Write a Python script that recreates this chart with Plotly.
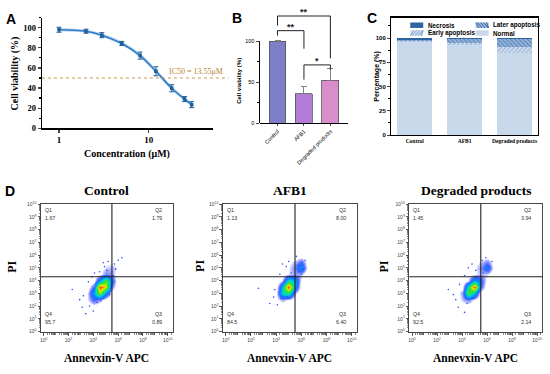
import math
import plotly.graph_objects as go

W, H = 550, 374
def fx(p): return p / W
def fy(p): return 1 - p / H

SERIF = "Liberation Serif, Times New Roman, serif"
SANS = "Liberation Sans, Arial, sans-serif"

# ---------------- Panel A data ----------------
conc = [1, 2, 3, 5, 8, 12, 18, 25, 30]
viab = [98.0, 96.5, 92.6, 84.4, 72.3, 56.7, 39.8, 29.0, 23.5]
viab_err = [2.5, 2.0, 2.5, 2.0, 3.5, 4.5, 3.5, 2.5, 3.0]
band_hi = [99.8, 98.1, 94.4, 86.2, 74.5, 59.0, 42.0, 31.0, 25.7]
band_lo = [96.2, 94.9, 90.8, 82.6, 70.1, 54.4, 37.6, 27.0, 21.3]
ic50_level = 50
ic50_label = "IC50 = 13.55μM"

# ---------------- Panel B data ----------------
groups_B = ["Control", "AFB1", "Degraded products"]
viab_B = [100, 36, 52]
err_B = [0.5, 8.5, 15.0]
colors_B = ["#7d80c6", "#b17bd8", "#da8dcb"]

# ---------------- Panel C data ----------------
groups_C = ["Control", "AFB1", "Degraded products"]
normal_C = [95.7, 92.5, 84.5]
early_C = [0.89, 2.14, 6.40]
later_C = [1.79, 3.94, 8.00]
necrosis_C = [1.67, 1.45, 1.13]

# ---------------- Panel D data ----------------
d_titles = ["Control", "AFB1", "Degraded products"]
q1_vals = ["1.67", "1.13", "1.45"]
q2_vals = ["1.79", "8.00", "3.94"]
q3_vals = ["0.89", "6.40", "2.14"]
q4_vals = ["95.7", "84.5", "92.5"]
quad_x = 5.5   # log10 gate on Annexin-V
quad_y = 4.3   # log10 gate on PI

grid_x = [3.0, 3.5, 4.0, 4.5, 5.0, 5.5, 6.0, 6.5]
grid_y = [1.5, 2.0, 2.5, 3.0, 3.5, 4.0, 4.5, 5.0, 5.5, 6.0]
dens_control = [
    [0, 0, 0, 0, 0, 0, 0, 0],
    [0, 0, 0.5, 0.2, 0, 0, 0, 0],
    [0, 0.6, 2.0, 1.2, 0.2, 0, 0, 0],
    [0, 0.5, 3.5, 7.0, 3.0, 0.3, 0, 0],
    [0, 0, 2.0, 9.6, 7.5, 1.5, 0, 0],
    [0, 0, 0.4, 3.5, 6.5, 2.5, 0, 0],
    [0, 0, 0, 0.5, 1.5, 1.3, 0.2, 0],
    [0, 0, 0, 0.4, 0.9, 1.1, 0.7, 0],
    [0, 0, 0, 0.2, 0.5, 0.7, 0.4, 0],
    [0, 0, 0, 0, 0, 0, 0, 0],
]
dens_afb1 = [
    [0, 0, 0, 0, 0, 0, 0, 0],
    [0, 0, 0, 0.2, 0, 0, 0, 0],
    [0, 0, 0.4, 1.2, 0.6, 0, 0, 0],
    [0, 0, 0.6, 4.5, 5.5, 1.0, 0, 0],
    [0, 0, 0.2, 4.0, 9.6, 3.0, 0, 0],
    [0, 0, 0, 1.0, 5.0, 3.5, 0.3, 0],
    [0, 0, 0, 0.2, 0.8, 1.3, 1.1, 0],
    [0, 0, 0, 0.4, 0.7, 1.6, 3.4, 0.4],
    [0, 0, 0, 0.2, 0.5, 1.1, 2.0, 0.3],
    [0, 0, 0, 0, 0, 0, 0, 0],
]
dens_degraded = [
    [0, 0, 0, 0, 0, 0, 0, 0],
    [0, 0, 0.3, 0.3, 0, 0, 0, 0],
    [0, 0, 1.0, 1.6, 0.5, 0, 0, 0],
    [0, 0, 1.4, 6.5, 4.0, 0.3, 0, 0],
    [0, 0, 0.4, 5.0, 9.6, 2.0, 0, 0],
    [0, 0, 0, 1.0, 4.0, 2.5, 0.2, 0],
    [0, 0, 0, 0.2, 0.6, 1.1, 0.9, 0.2],
    [0, 0, 0, 0.3, 0.6, 1.3, 2.8, 0.5],
    [0, 0, 0, 0, 0.4, 0.9, 1.6, 0.3],
    [0, 0, 0, 0, 0, 0, 0, 0],
]
dots_control_x = [2.3, 3.1, 3.4, 3.7, 4.0, 4.3, 3.2, 3.6, 4.6, 5.3, 5.5, 4.5, 4.9, 5.2, 5.7, 6.0, 6.3, 5.8, 4.8, 5.1, 3.9, 4.1, 2.9, 5.6]
dots_control_y = [3.3, 1.9, 1.4, 2.0, 1.6, 2.3, 2.8, 3.9, 2.4, 2.9, 3.6, 4.7, 5.1, 5.5, 5.3, 5.6, 5.8, 4.9, 5.4, 4.8, 4.3, 4.6, 2.5, 4.4]
dots_afb1_x = [2.6, 3.5, 3.8, 4.1, 4.4, 4.6, 3.9, 4.9, 5.4, 4.5, 4.8, 5.0, 5.6, 5.8, 6.1, 6.3, 5.7, 6.0, 4.3, 5.2]
dots_afb1_y = [3.4, 2.2, 2.7, 2.1, 2.6, 3.9, 3.3, 2.7, 3.0, 5.3, 5.1, 5.5, 5.9, 4.7, 4.9, 5.6, 5.2, 4.5, 4.5, 4.6]
dots_degraded_x = [2.9, 3.5, 3.7, 4.2, 4.4, 3.8, 4.9, 5.3, 4.5, 4.8, 5.1, 5.6, 5.9, 6.2, 6.4, 5.7, 4.2, 3.3]
dots_degraded_y = [3.3, 2.5, 1.9, 1.5, 2.2, 3.7, 2.6, 3.1, 5.0, 5.3, 4.8, 5.6, 5.8, 5.1, 5.5, 4.6, 4.4, 2.9]

d_dens = [dens_control, dens_afb1, dens_degraded]
d_dots = [(dots_control_x, dots_control_y), (dots_afb1_x, dots_afb1_y), (dots_degraded_x, dots_degraded_y)]

fig = go.Figure()

# ---------------- Panel A ----------------
fig.add_trace(go.Scatter(x=conc, y=band_hi, mode="lines", line=dict(width=0, shape="spline"),
                         xaxis="x", yaxis="y", hoverinfo="skip", showlegend=False))
fig.add_trace(go.Scatter(x=conc, y=band_lo, mode="lines", line=dict(width=0, shape="spline"),
                         fill="tonexty", fillcolor="rgba(120,175,225,0.45)",
                         xaxis="x", yaxis="y", hoverinfo="skip", showlegend=False))
fig.add_trace(go.Scatter(x=conc, y=viab, mode="lines", line=dict(color="#2c7bc4", width=1.6, shape="spline"),
                         xaxis="x", yaxis="y", showlegend=False))
fig.add_trace(go.Scatter(x=conc, y=viab, mode="markers",
                         marker=dict(symbol="square", size=3.5, color="#1f5d99"),
                         error_y=dict(type="data", array=viab_err, color="#1f5d99", thickness=1, width=2.5),
                         xaxis="x", yaxis="y", showlegend=False))

# ---------------- Panel B ----------------
fig.add_trace(go.Bar(x=groups_B, y=viab_B, width=0.64,
                     marker=dict(color=colors_B, line=dict(color="#555555", width=0.8)),
                     error_y=dict(type="data", array=err_B, arrayminus=[0, 0, 0], symmetric=False,
                                  color="#777777", thickness=0.9, width=3),
                     xaxis="x2", yaxis="y2", showlegend=False))

# ---------------- Panel C ----------------
fig.add_trace(go.Bar(x=groups_C, y=normal_C, width=0.7, name="Normal",
                     marker=dict(color="#c9d9ec", line=dict(width=0)),
                     xaxis="x3", yaxis="y3", showlegend=False))
fig.add_trace(go.Bar(x=groups_C, y=early_C, width=0.7, name="Early apoptosis",
                     marker=dict(color="#dbe6f3", line=dict(width=0),
                                 pattern=dict(shape="/", fgcolor="#6b93c4", bgcolor="#d3e0f0", size=3, solidity=0.45)),
                     xaxis="x3", yaxis="y3", showlegend=False))
fig.add_trace(go.Bar(x=groups_C, y=later_C, width=0.7, name="Later apoptosis",
                     marker=dict(color="#8fb0d8", line=dict(width=0),
                                 pattern=dict(shape="\\", fgcolor="#2b5b95", bgcolor="#9dbbe0", size=3, solidity=0.5)),
                     xaxis="x3", yaxis="y3", showlegend=False))
fig.add_trace(go.Bar(x=groups_C, y=necrosis_C, width=0.7, name="Necrosis",
                     marker=dict(color="#2f64a3", line=dict(width=0)),
                     xaxis="x3", yaxis="y3", showlegend=False))

# ---------------- Panel D ----------------
jet = [[0, "rgba(0,0,255,0)"], [0.07, "rgba(0,0,255,0)"], [0.12, "rgba(40,60,255,0.45)"],
       [0.2, "rgba(20,70,255,0.85)"], [0.32, "#0090ff"], [0.45, "#00e0c0"], [0.6, "#30e030"],
       [0.75, "#e0f000"], [0.87, "#ff9000"], [1, "#e81000"]]
for i in range(3):
    xa = "x%d" % (i + 4)
    ya = "y%d" % (i + 4)
    fig.add_trace(go.Heatmap(x=grid_x, y=grid_y, z=d_dens[i], zmin=0, zmax=10, zsmooth="best",
                             colorscale=jet, showscale=False, hoverinfo="skip",
                             xaxis=xa, yaxis=ya))
    fig.add_trace(go.Scatter(x=d_dots[i][0], y=d_dots[i][1], mode="markers",
                             marker=dict(size=1.6, color="#2a4cff"), hoverinfo="skip",
                             xaxis=xa, yaxis=ya, showlegend=False))

# ---------------- Layout / axes ----------------
axis_black = dict(showgrid=False, zeroline=False, linecolor="black")
layout = dict(
    width=W, height=H, margin=dict(l=0, r=0, t=0, b=0),
    paper_bgcolor="white", plot_bgcolor="rgba(0,0,0,0)",
    showlegend=False, barmode="stack",
    xaxis=dict(axis_black, type="log", range=[-0.19, 1.71], domain=[fx(41), fx(212)],
               tickvals=[1, 10], ticktext=["1", "10"], ticks="outside", ticklen=3, tickwidth=1.2,
               showline=True, linewidth=1.3,
               tickfont=dict(family=SERIF, size=9, color="black", weight="bold"), anchor="y"),
    yaxis=dict(axis_black, range=[0, 110], domain=[fy(128), fy(15)],
               tickvals=[0, 20, 40, 60, 80, 100], ticks="outside", ticklen=3, tickwidth=1.2,
               minor=dict(tickvals=[10, 30, 50, 70, 90, 110], ticks="outside", ticklen=2, tickcolor="black"),
               showline=True, linewidth=1.3,
               tickfont=dict(family=SERIF, size=8.5, color="black", weight="bold"), anchor="x"),
    xaxis2=dict(axis_black, type="category", range=[-0.68, 2.68], domain=[fx(259), fx(348)],
                showline=True, linewidth=1, ticks="outside", ticklen=2, tickangle=-45,
                tickfont=dict(family=SANS, size=5.5, color="black"), anchor="y2"),
    yaxis2=dict(axis_black, range=[0, 140.6], domain=[fy(122.7), fy(5)],
                tickvals=[0, 50, 100], ticks="outside", ticklen=3,
                minor=dict(tickvals=[25, 75], ticks="outside", ticklen=2, tickcolor="black"),
                showline=False, tickfont=dict(family=SANS, size=5.5, color="black"), anchor="x2"),
    xaxis3=dict(axis_black, type="category", range=[-0.47, 2.47], domain=[fx(391), fx(538)],
                showline=True, mirror=True, linewidth=1.3, ticks="",
                tickfont=dict(family=SERIF, size=5.5, color="black", weight="bold"), anchor="y3"),
    yaxis3=dict(axis_black, range=[0, 121], domain=[fy(135), fy(15)],
                tickvals=[0, 25, 50, 75, 100], ticks="outside", ticklen=3, tickwidth=1,
                minor=dict(tickvals=[12.5, 37.5, 62.5, 87.5, 112.5], ticks="outside", ticklen=1.5, tickcolor="black"),
                showline=True, mirror=True, linewidth=1.3,
                tickfont=dict(family=SANS, size=6, color="black", weight="bold"), anchor="x3"),
)

d_xdom = [(40, 172.3), (222.3, 356.7), (409, 542.3)]
minor_log = [d + math.log10(k) for d in range(0, 11) for k in range(2, 10) if d + math.log10(k) < 10.4]
for i in range(3):
    n = i + 4
    layout["xaxis%d" % n] = dict(axis_black, range=[-0.22, 10.42], domain=[fx(d_xdom[i][0]), fx(d_xdom[i][1])],
                                 tickvals=[0, 2, 4, 6, 8, 10],
                                 ticktext=["10<sup>%d</sup>" % v for v in [0, 2, 4, 6, 8, 10]],
                                 ticks="outside", ticklen=2.5, tickwidth=0.8, tickcolor="#333",
                                 minor=dict(tickvals=minor_log, ticks="outside", ticklen=1.3, tickcolor="#333", tickwidth=0.6),
                                 showline=True, mirror=True, linewidth=0.9, linecolor="#333",
                                 tickfont=dict(family=SANS, size=5, color="#444"), anchor="y%d" % n)
    layout["yaxis%d" % n] = dict(axis_black, range=[-0.08, 10.05], domain=[fy(336.7), fy(205)],
                                 tickvals=list(range(0, 11)),
                                 ticktext=["10<sup>%d</sup>" % v for v in range(0, 11)],
                                 ticks="outside", ticklen=2.5, tickwidth=0.8, tickcolor="#333",
                                 minor=dict(tickvals=minor_log, ticks="outside", ticklen=1.3, tickcolor="#333", tickwidth=0.6),
                                 showline=True, mirror=True, linewidth=0.9, linecolor="#333",
                                 tickfont=dict(family=SANS, size=5, color="#444"), anchor="x%d" % n)

fig.update_layout(**layout)

shapes = []
ann = []

def add_text(text, x, y, size, family=SERIF, color="black", xanchor="center", yanchor="middle",
             angle=0, xref="paper", yref="paper", yshift=0):
    ann.append(dict(text=text, xref=xref, yref=yref, x=x, y=y, xanchor=xanchor, yanchor=yanchor,
                    textangle=angle, showarrow=False, yshift=yshift,
                    font=dict(family=family, size=size, color=color)))

# Panel A decorations
shapes.append(dict(type="line", xref="paper", yref="y", x0=fx(41), x1=fx(228), y0=ic50_level, y1=ic50_level,
                   line=dict(color="#c99a4a", width=1, dash="dot")))
add_text(ic50_label, fx(166), fy(70), 8, color="#b8842c", xanchor="left")
add_text("<b>Cell viability (%)</b>", fx(14), fy(72), 10, angle=-90)
add_text("<b>Concentration (μM)</b>", fx(126), fy(154), 10)

# Panel B decorations
shapes.append(dict(type="line", xref="paper", yref="y2", x0=fx(259), x1=fx(259), y0=0, y1=100,
                   line=dict(color="black", width=1)))
bracket_paths = [
    (0, 119, 0, 130.7, 2, 130.7, 2, 79),
    (0, 106.8, 0, 112.8, 1, 112.8, 1, 90.8),
    (1, 53, 1, 71, 2, 71, 2, 65),
]
for (a0, b0, a1, b1, a2, b2, a3, b3) in bracket_paths:
    shapes.append(dict(type="path", xref="x2", yref="y2",
                       path="M %g,%g L %g,%g L %g,%g L %g,%g" % (a0, b0, a1, b1, a2, b2, a3, b3),
                       line=dict(color="#222", width=1)))
for (sx, sy, st) in [(1, 130.7, "**"), (0.5, 112.8, "**"), (1.5, 71, "*")]:
    add_text("<b>%s</b>" % st, sx, sy, 9, family=SANS, color="#222", yanchor="bottom",
             xref="x2", yref="y2", yshift=-3)
add_text("<b>Cell viability (%)</b>", fx(239), fy(80), 6, family=SANS, angle=-90)

# Panel C decorations: y title and legend
add_text("<b>Percentage (%)</b>", fx(377), fy(75), 7, family=SANS, angle=-90)
legend_items = [
    ("Necrosis", 410, 22.7, "#2f64a3", "#2f64a3", None),
    ("Later apoptosis", 475.5, 22.7, "#9dbbe0", "#2b5b95", "back"),
    ("Early apoptosis", 410, 30.7, "#d3e0f0", "#6b93c4", "fwd"),
    ("Normal", 475.5, 30.7, "#c9d9ec", "#c9d9ec", None),
]
for (lab, lx, ly, bg, fg, hatch) in legend_items:
    shapes.append(dict(type="rect", xref="paper", yref="paper", x0=fx(lx), x1=fx(lx + 13),
                       y0=fy(ly + 2.8), y1=fy(ly - 2.8), fillcolor=bg, line=dict(width=0)))
    if hatch:
        for k in range(5):
            xa = lx + k * 3
            if hatch == "back":
                x0p, y0p, x1p, y1p = xa - 1, ly - 2.8, xa + 3.5, ly + 2.8
            else:
                x0p, y0p, x1p, y1p = xa - 1, ly + 2.8, xa + 3.5, ly - 2.8
            x0p = max(x0p, lx); x1p = min(x1p, lx + 13)
            shapes.append(dict(type="line", xref="paper", yref="paper", x0=fx(x0p), x1=fx(x1p),
                               y0=fy(y0p), y1=fy(y1p), line=dict(color=fg, width=0.9)))
    add_text("<b>%s</b>" % lab, fx(lx + 15.5), fy(ly), 6.3, family=SANS, xanchor="left")

# Panel D decorations
d_title_x = [106, 289.5, 475.7]
d_pi_x = [11.5, 200, 384]
for i in range(3):
    n = i + 4
    shapes.append(dict(type="line", xref="x%d" % n, yref="y%d domain" % n, x0=quad_x, x1=quad_x, y0=0, y1=1,
                       line=dict(color="#222", width=1.1)))
    shapes.append(dict(type="line", xref="x%d domain" % n, yref="y%d" % n, x0=0, x1=1, y0=quad_y, y1=quad_y,
                       line=dict(color="#222", width=1.1)))
    add_text("<b>%s</b>" % d_titles[i], fx(d_title_x[i]), fy(192), 13.5)
    add_text("<b>Annevxin-V APC</b>", fx(d_title_x[i]), fy(363), 11.5)
    add_text("<b>PI</b>", fx(d_pi_x[i]), fy(269), 12, angle=-90)
    for (txt, qx, qy, xa_) in [("Q1", 0.015, 0.95, "left"), (q1_vals[i], 0.015, 0.89, "left"),
                               ("Q2", 0.93, 0.95, "right"), (q2_vals[i], 0.93, 0.89, "right"),
                               ("Q4", 0.015, 0.145, "left"), (q4_vals[i], 0.015, 0.08, "left"),
                               ("Q3", 0.93, 0.145, "right"), (q3_vals[i], 0.93, 0.08, "right")]:
        add_text(txt, qx, qy, 5.3, family=SANS, color="#333", xanchor=xa_,
                 xref="x%d domain" % n, yref="y%d domain" % n)

# Panel letters
for (lt, lx, ly) in [("A", 10, 16), ("B", 236, 15.5), ("C", 372, 15.5), ("D", 9, 192)]:
    add_text("<b>%s</b>" % lt, fx(lx), fy(ly), 14, family=SANS)

fig.update_layout(shapes=shapes, annotations=ann)
fig.write_html("out.html", config={"displayModeBar": False, "staticPlot": True},
               post_script="document.body.style.margin='0';document.body.style.overflow='hidden';")
